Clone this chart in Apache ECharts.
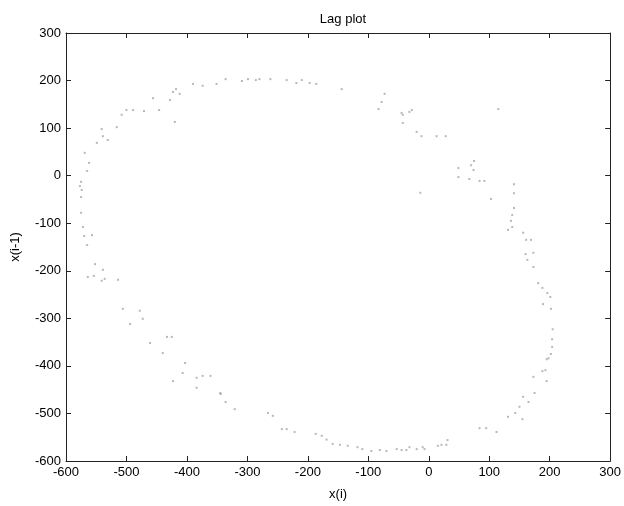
<!DOCTYPE html>
<html>
<head>
<meta charset="utf-8">
<script src="https://cdn.jsdelivr.net/npm/echarts@6/dist/echarts.min.js"></script>
<style>html,body{margin:0;padding:0;background:#fff}#c{width:624px;height:506px}</style>
</head>
<body>
<div id="c"></div>
<script>
// x(i) values
var xi = [-336,-309,-299,-286,-280,-262,-235,-219,-210,-197,-186,-144,-73,-78,-374,-351,-423,-412,-456,-428,-390,-418,-420,-446,-471,-489,-500,-508,-516,-541,-539,-531,-549,-569,-562,-565,-575,-577,-574,-575,-575,-572,
-83,-45,-32,-43,-20,-12,13,28,49,49,-14,115,
-28,-43,75,70,74,67,84,92,141,141,103,141,138,136,131,138,156,161,169,160,173,163,173,181,188,196,201,
189,202,205,204,204,202,198,195,193,188,195,173,175,156,165,150,143,131,155,112,84,95,31,21,15,-7,-10,-32,-45,
-266,-258,-243,-235,-222,-187,-177,-169,-159,-147,-134,-118,-110,-95,-81,-70,-53,-37,-20,29,
-570,-557,-565,-552,-539,-564,-554,-541,-536,-514,-506,-478,-473,-494,-461,-433,-425,-440,-403,-407,-423,-384,-374,-361,-384,-344,-336,-321,-345];
// x(i-1) values
var xi1 = [203,199,203,201,203,203,201,195,201,195,193,182,172,155,189,193,176,172,163,159,193,182,113,138,136,138,138,128,102,98,83,75,69,48,27,10,-13,-22,-30,-45,-78,-108,
140,132,134,111,92,83,83,83,16,-3,-36,140,
138,128,31,22,12,-7,-11,-11,-18,-37,-49,-68,-83,-95,-114,-108,-120,-135,-135,-165,-162,-177,-192,-226,-236,-247,-255,
-270,-280,-323,-344,-360,-375,-384,-386,-409,-411,-432,-423,-457,-465,-476,-486,-499,-507,-512,-539,-531,-531,-556,-566,-568,-575,-571,-571,-577,
-499,-505,-533,-533,-539,-543,-547,-555,-564,-566,-568,-571,-575,-579,-577,-579,-575,-577,-575,-566,
-127,-125,-146,-186,-198,-213,-211,-221,-217,-219,-280,-284,-301,-312,-352,-339,-339,-373,-394,-415,-432,-425,-421,-421,-446,-459,-476,-491,-457];
var xTicks = [-600,-500,-400,-300,-200,-100,0,100,200,300];
var yTicks = [-600,-500,-400,-300,-200,-100,0,100,200,300];

var pts = xi.map(function(v,i){return [v, xi1[i]];});
var chart = echarts.init(document.getElementById('c'), null, {renderer:'canvas'});
var lab = {color:'#000', fontFamily:'Liberation Sans, Arial, sans-serif', fontSize:13};
var axLine = {show:true, onZero:false, lineStyle:{color:'#222', width:1}};
var tick = {show:true, inside:true, length:5, lineStyle:{color:'#222'}};
chart.setOption({
  animation:false,
  backgroundColor:'#fff',
  title:{text:'Lag plot', left:338, top:8, textAlign:'center',
    textStyle:{fontFamily:'Liberation Sans, Arial, sans-serif', fontSize:13, fontWeight:'normal', color:'#000'}},
  grid:{left:66, right:13, top:33, bottom:45, show:false},
  xAxis:[{type:'value', min:xTicks[0], max:xTicks[xTicks.length-1], interval:100, position:'bottom',
    name:'x(i)', nameLocation:'middle', nameGap:27, nameTextStyle:lab,
    axisLine:axLine, axisTick:tick,
    axisLabel:Object.assign({margin:5}, lab), splitLine:{show:false}},
    {type:'value', min:xTicks[0], max:xTicks[xTicks.length-1], interval:100, position:'top',
    axisLine:axLine, axisTick:tick, axisLabel:{show:false}, splitLine:{show:false}}],
  yAxis:[{type:'value', min:yTicks[0], max:yTicks[yTicks.length-1], interval:100, position:'left',
    name:'x(i-1)', nameLocation:'middle', nameGap:44, nameRotate:90, nameTextStyle:lab,
    axisLine:axLine, axisTick:tick,
    axisLabel:Object.assign({margin:5}, lab), splitLine:{show:false}},
    {type:'value', min:yTicks[0], max:yTicks[yTicks.length-1], interval:100, position:'right',
    axisLine:axLine, axisTick:tick, axisLabel:{show:false}, splitLine:{show:false}}],
  series:[{type:'scatter', xAxisIndex:0, yAxisIndex:0, data:pts, symbol:'rect', symbolSize:2,
    itemStyle:{color:'#9a9a9a', opacity:0.7}}]
});
</script>
</body>
</html>
